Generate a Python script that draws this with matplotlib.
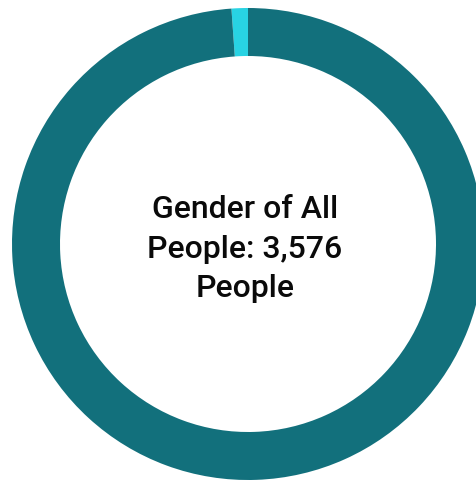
import matplotlib
matplotlib.use('Agg')
import matplotlib.pyplot as plt

# gender breakdown of all people
labels = ['Other', 'Main']
counts = [40, 3536]
colors = ['#28d3e3', '#12707c']
total = sum(counts)

W, H = 476, 482
fig = plt.figure(figsize=(W / 100, H / 100), dpi=100)
ax = fig.add_axes([0, 0, 1, 1])
ax.set_aspect('equal')

cx, cy = 248, H - 244
outer_r, ring_w = 236, 48

ax.pie(counts, colors=colors, startangle=90, counterclock=True,
       center=(cx, cy), radius=outer_r, frame=True,
       wedgeprops=dict(width=ring_w, linewidth=0))
ax.set_xlim(0, W)
ax.set_ylim(0, H)
ax.axis('off')

ax.text(cx - 3, cy - 5, 'Gender of All\nPeople: {:,}\nPeople'.format(total),
        ha='center', va='center', fontsize=23, family='Roboto',
        weight='medium', color='#0a0a0a', linespacing=1.45)

fig.savefig('out.png', dpi=100, facecolor='white')
